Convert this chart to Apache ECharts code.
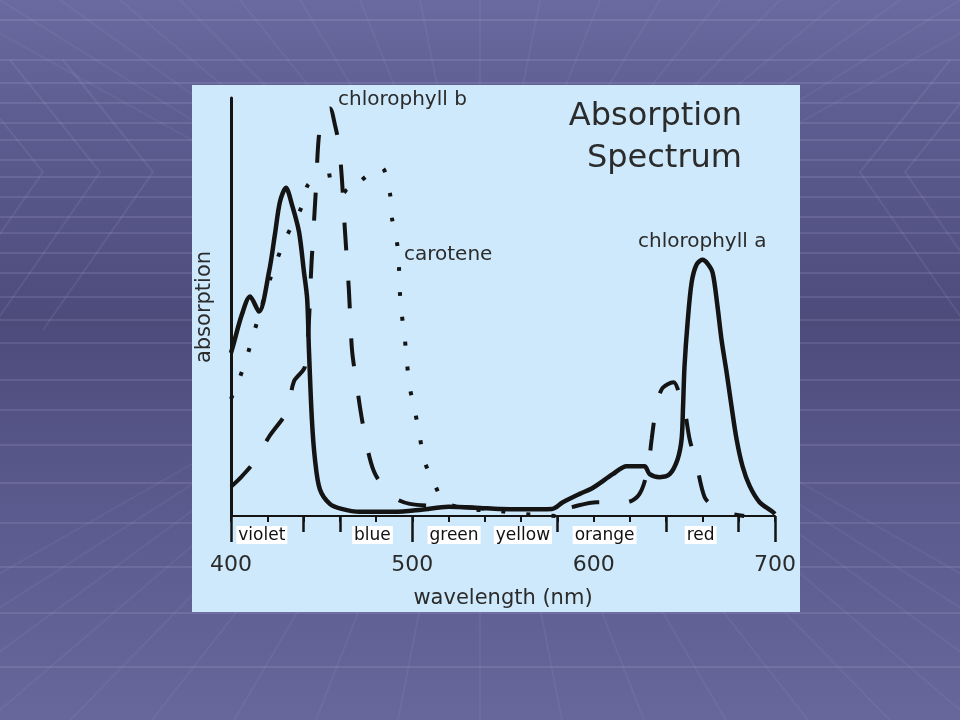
<!DOCTYPE html>
<html>
<head>
<meta charset="utf-8">
<script src="https://cdn.jsdelivr.net/npm/echarts@6/dist/echarts.min.js"></script>
<style>html,body{margin:0;padding:0;background:#5a5a88}#c{width:960px;height:720px}</style>
</head>
<body>
<div id="c"></div>
<script>
// ---- data (wavelength nm, relative absorption 0-100) ----
const chlA_nm  = [400, 401, 406, 410.5, 415.4, 421, 424.2, 427, 430.3, 433.6, 437.5, 440.2, 442, 443, 444.6, 446.3, 449, 454.5, 461, 471, 490, 505, 520, 535, 548, 560, 577, 583, 592.3, 599.4, 610.5, 618.2, 628, 630.9, 636.4, 641.9, 646.3, 648.5, 649.3, 650.1, 651.8, 654, 656.7, 660, 662.8, 665.6, 668.3, 670.5, 673.3, 676, 678.8, 682.1, 686, 691.5, 698.1, 700];
const chlA_abs = [39, 40.5, 48.2, 52.5, 48.9, 58.5, 67.3, 75.2, 78.5, 74.5, 68, 58.5, 52, 39.5, 23.2, 13.6, 6.4, 2.9, 1.7, 1.0, 1.0, 1.5, 2.2, 2.0, 1.7, 1.6, 1.7, 3.3, 5.3, 6.7, 10, 11.9, 11.9, 10, 9.3, 10, 13.6, 18.4, 26.3, 35.8, 46.3, 55.8, 60.1, 61.3, 60.4, 58.2, 50.1, 42.2, 34.4, 26.3, 18.4, 11.9, 7.2, 3.3, 1.2, 0.5];

const chlB_nm  = [400, 406, 412.7, 420.9, 430.9, 434.7, 440.8, 444.6, 446.8, 448.5, 451.2, 454.5, 457.3, 459.5, 461.2, 462.8, 465, 466.7, 468.9, 472.7, 478.8, 488.7, 498.6, 517.9, 548, 581, 601.7, 618.2, 625.3, 629.8, 632, 634.7, 637.5, 640.8, 644.1, 647.4, 650.1, 652.9, 656.7, 661.2, 666.7, 676, 683];
const chlB_abs = [7, 9.5, 12.9, 18.9, 25.1, 32.2, 35.8, 62, 78, 91, 96.5, 97.5, 93.6, 88.8, 80.4, 68.5, 54.2, 39.9, 32.7, 22, 10.7, 4.8, 2.9, 2.4, 1.7, 1.7, 3.3, 3.3, 5.3, 11.2, 18.4, 26.7, 30.3, 31.5, 32, 29.1, 25.5, 18.4, 12.4, 4.5, 2.1, 0.5, 0];

const car_nm  = [400, 406.1, 410.5, 414.3, 421.5, 429.8, 439, 442.4, 449, 457.3, 464.5, 472.2, 477, 483.2, 487.6, 488.7, 491.5, 492.6, 493.1, 494.2, 495.9, 497, 498.6, 501.4, 504.1, 506.3, 511.8, 517.9, 531.7, 548.2, 560, 580];
const car_abs = [28, 34.6, 40.6, 46.3, 56.6, 66.1, 74, 79.2, 80.9, 81.6, 77.3, 80.4, 82, 83.3, 77.3, 71.4, 65.6, 59.7, 53.7, 48.2, 42.2, 36.8, 30.8, 25.1, 19.1, 13.6, 8.1, 3.3, 1.7, 1.2, 0.5, 0];

const xTickLabels = [400, 500, 600, 700];
const midTicks = [440, 460, 580, 640, 680];
const longTicks = [400, 500, 700];
const bandNames = ['violet', 'blue', 'green', 'yellow', 'orange', 'red'];
const bandCenters = [417, 478, 523, 561, 606, 659];
const seriesNames = ['chlorophyll a', 'chlorophyll b', 'carotene'];

const zip = (xs, ys) => xs.map((x, i) => [x, ys[i]]);
const FONT = 'DejaVu Sans';
const TXT = '#2b2b2b';
const INK = '#141414';

// ---- slide background decoration ----
const bgEls = [{
  type: 'rect', z: -20, silent: true,
  shape: {x: 0, y: 0, width: 960, height: 720},
  style: {fill: new echarts.graphic.LinearGradient(0, 0, 0, 1, [
    {offset: 0, color: '#6a6aa0'}, {offset: 0.15, color: '#5e5e93'},
    {offset: 0.45, color: '#4c4b7a'}, {offset: 0.7, color: '#5b5a8e'},
    {offset: 1, color: '#68679c'}])}
}];
const hLines = [20, 60, 83, 103, 123, 140, 160, 177, 197, 217, 233, 253, 273, 297, 320, 343, 380, 410, 445, 483, 523, 567, 613, 667];
hLines.forEach(y => bgEls.push({type: 'line', z: -19, silent: true,
  shape: {x1: 0, y1: y, x2: 960, y2: y},
  style: {stroke: 'rgba(200,200,240,0.18)', lineWidth: 1.5}}));
for (let k = -6; k <= 12; k++) {
  const bx = k * 160;
  bgEls.push({type: 'line', z: -19, silent: true,
    shape: {x1: 480, y1: 300, x2: bx, y2: 720 + 400},
    style: {stroke: 'rgba(200,200,240,0.07)', lineWidth: 2}});
  bgEls.push({type: 'line', z: -19, silent: true,
    shape: {x1: 480, y1: 300, x2: bx, y2: -500},
    style: {stroke: 'rgba(200,200,240,0.07)', lineWidth: 2}});
}
// chevrons on the side walls
[43, 100, 153].forEach(cx => {
  bgEls.push({type: 'polyline', z: -19, silent: true,
    shape: {points: [[cx - 90, 60], [cx, 172], [cx - 110, 330]]},
    style: {stroke: 'rgba(200,200,240,0.1)', lineWidth: 2, fill: null}});
});
[860, 905].forEach(cx => {
  bgEls.push({type: 'polyline', z: -19, silent: true,
    shape: {points: [[cx + 90, 60], [cx, 172], [cx + 110, 330]]},
    style: {stroke: 'rgba(200,200,240,0.1)', lineWidth: 2, fill: null}});
});
// chart panel
bgEls.push({type: 'rect', z: -10, silent: true,
  shape: {x: 192, y: 85, width: 608, height: 527},
  style: {fill: '#cde9fb'}});

const textEls = [
  {type: 'text', z: 10, x: 742, y: 96, style: {text: 'Absorption\nSpectrum', align: 'right', verticalAlign: 'top',
    font: 'normal 32px "' + FONT + '"', lineHeight: 42, fill: TXT}},
  {type: 'text', z: 10, x: 338, y: 100, style: {text: seriesNames[1], verticalAlign: 'middle',
    font: 'normal 20px "' + FONT + '"', fill: TXT}},
  {type: 'text', z: 10, x: 404, y: 255, style: {text: seriesNames[2], verticalAlign: 'middle',
    font: 'normal 20px "' + FONT + '"', fill: TXT}},
  {type: 'text', z: 10, x: 638, y: 242, style: {text: seriesNames[0], verticalAlign: 'middle',
    font: 'normal 20px "' + FONT + '"', fill: TXT}}
];

const grid = {left: 231, right: 185, top: 98, bottom: 204};
const baseX = {type: 'value', min: 400, max: 700, interval: 20, position: 'bottom',
  splitLine: {show: false}};

const chart = echarts.init(document.getElementById('c'));
chart.setOption({
  backgroundColor: '#5a5a88',
  animation: false,
  graphic: bgEls.concat(textEls),
  grid: grid,
  xAxis: [
    Object.assign({}, baseX, {
      axisLine: {show: true, onZero: false, lineStyle: {color: INK, width: 2}},
      axisTick: {show: true, length: 6, lineStyle: {color: INK, width: 2}},
      axisLabel: {margin: 38, fontSize: 22, fontFamily: FONT, color: TXT,
        formatter: v => xTickLabels.indexOf(v) >= 0 ? String(v) : ''},
      name: 'wavelength (nm)', nameLocation: 'middle', nameGap: 72,
      nameTextStyle: {fontSize: 21, fontFamily: FONT, color: TXT}
    }),
    Object.assign({}, baseX, {
      axisLine: {show: false, onZero: false},
      axisTick: {show: true, length: 16, customValues: midTicks, lineStyle: {color: INK, width: 2.5}},
      axisLabel: {show: false}
    }),
    Object.assign({}, baseX, {
      axisLine: {show: false, onZero: false},
      axisTick: {show: true, length: 26, customValues: longTicks, lineStyle: {color: INK, width: 2.5}},
      axisLabel: {show: false}
    }),
    Object.assign({}, baseX, {
      axisLine: {show: false, onZero: false},
      axisTick: {show: false},
      axisLabel: {show: true, customValues: bandCenters, margin: 10, fontSize: 17, fontFamily: FONT,
        color: '#111', backgroundColor: '#ffffff', padding: [1, 2, 0, 2],
        formatter: v => { const i = bandCenters.indexOf(v); return i >= 0 ? bandNames[i] : ''; }}
    })
  ],
  yAxis: {
    type: 'value', min: 0, max: 100,
    axisLine: {show: true, onZero: false, lineStyle: {color: INK, width: 3}},
    axisTick: {show: false}, axisLabel: {show: false}, splitLine: {show: false},
    name: 'absorption', nameLocation: 'middle', nameGap: 16, nameRotate: 90,
    nameTextStyle: {fontSize: 21, fontFamily: FONT, color: TXT}
  },
  series: [
    {name: seriesNames[0], type: 'line', data: zip(chlA_nm, chlA_abs), showSymbol: false, smooth: 0.3,
      lineStyle: {color: INK, width: 4.5}, z: 5},
    {name: seriesNames[1], type: 'line', data: zip(chlB_nm, chlB_abs), showSymbol: false, smooth: 0.3,
      lineStyle: {color: INK, width: 4, type: [28, 30], cap: 'butt'}, z: 4},
    {name: seriesNames[2], type: 'line', data: zip(car_nm, car_abs), showSymbol: false, smooth: 0.3,
      lineStyle: {color: INK, width: 4, type: [4, 21], cap: 'butt'}, z: 4}
  ]
});
</script>
</body>
</html>
